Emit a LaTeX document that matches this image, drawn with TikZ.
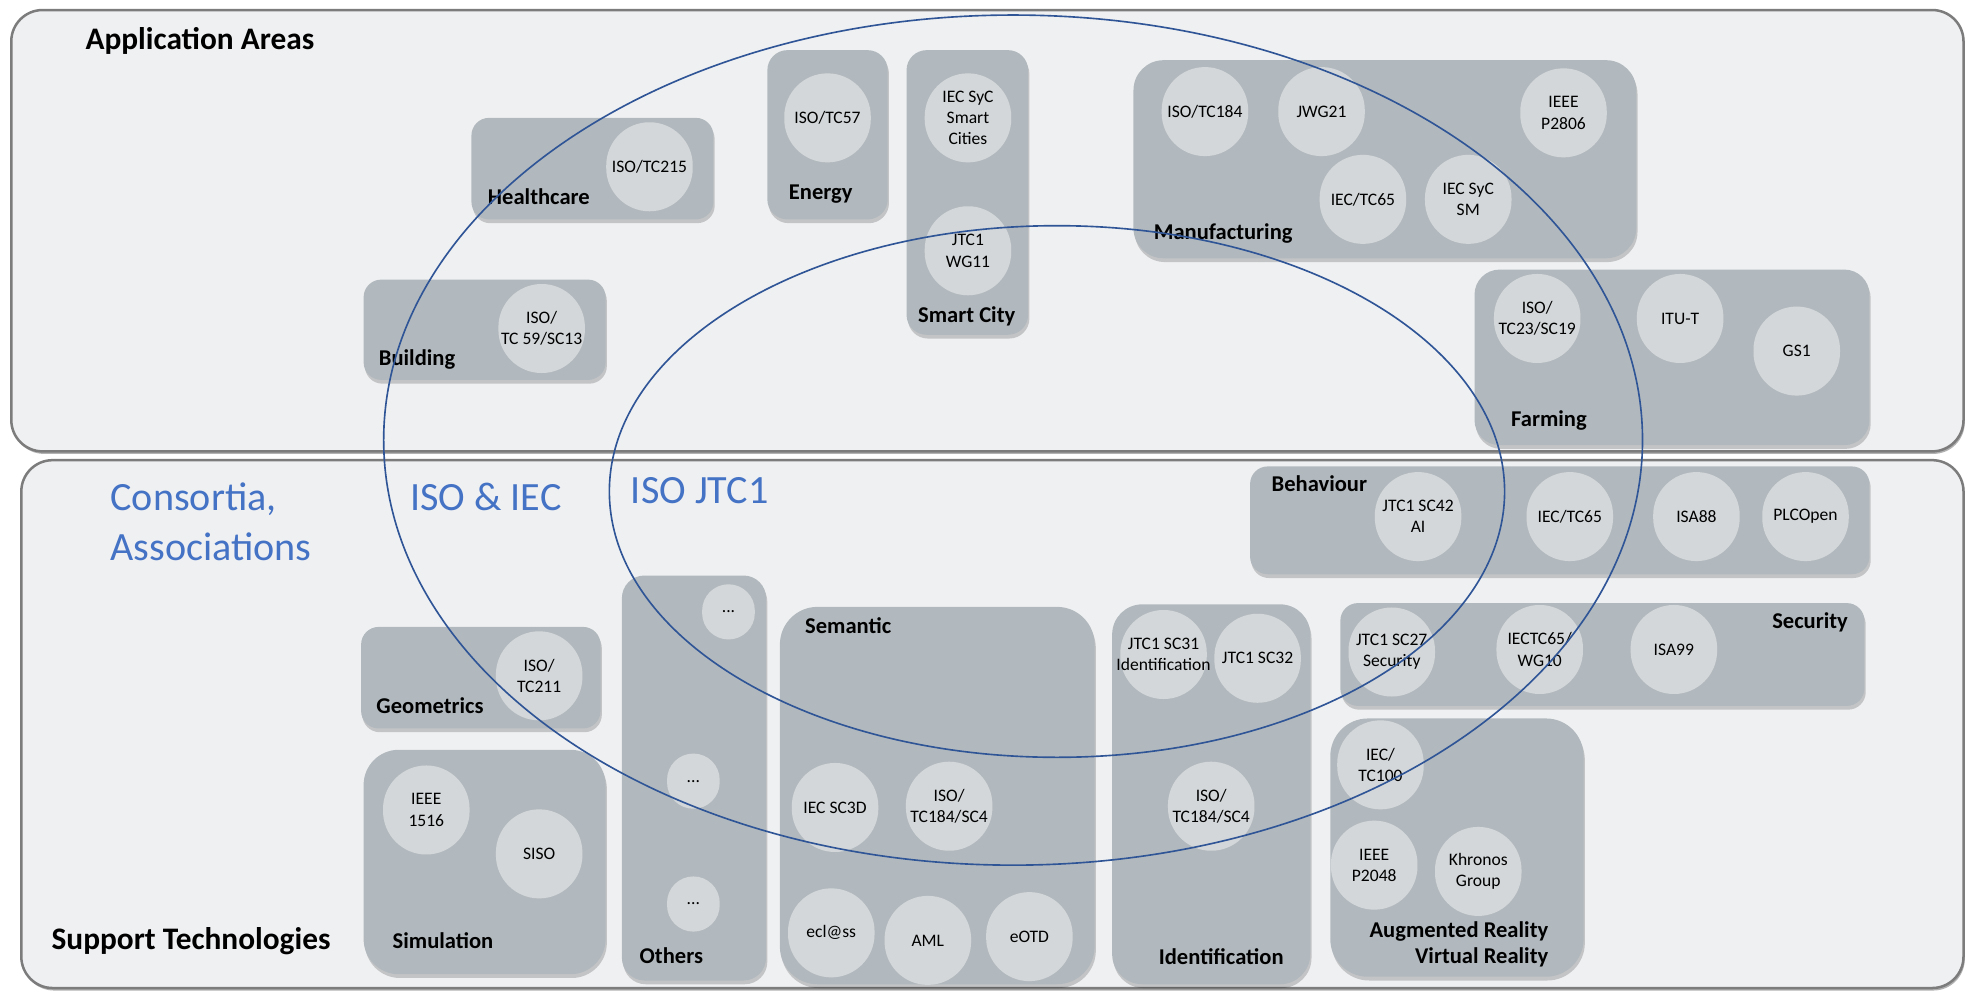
\documentclass[tikz,border=0pt]{standalone}
\usepackage{fontspec}
\setmainfont{Carlito}
\usetikzlibrary{shadows}

\definecolor{panelfill}{HTML}{EFF0F2}
\definecolor{panelline}{HTML}{7C7C7C}
\definecolor{boxfill}{HTML}{B2B9BE}
\definecolor{orgfill}{HTML}{D3D7D9}
\definecolor{ringblue}{HTML}{2F5597}
\definecolor{titleblue}{HTML}{4472C4}

\begin{document}
\begin{tikzpicture}[x=1pt, y=-1pt,
        panel/.style={fill=panelfill, draw=panelline, line width=2pt, rounded corners=25pt,
            drop shadow={shadow xshift=1pt, shadow yshift=-2pt, fill=black, opacity=0.3}},
        box/.style={fill=boxfill, rounded corners=14pt,
            drop shadow={shadow xshift=1pt, shadow yshift=-3pt, fill=black, opacity=0.18}},
        org/.style={rectangle, rounded corners=34.5pt, fill=orgfill, minimum width=69pt,
            minimum height=71pt, inner sep=0pt, align=center, font=\fontsize{14}{17}\selectfont},
        dots/.style={org, rounded corners=21pt, minimum width=42pt, minimum height=44pt},
        area/.style={inner sep=0pt, font=\bfseries\fontsize{18}{21}\selectfont},
        head/.style={inner sep=0pt, anchor=west, font=\bfseries\fontsize{25}{30}\selectfont},
        group/.style={inner sep=0pt, anchor=west, align=left, text=titleblue,
            font=\fontsize{32}{40}\selectfont},
        ring/.style={draw=ringblue, line width=1.3pt}]

    \useasboundingbox ( 0, 0 ) rectangle ( 1568, 790 );
    \fill [white] ( 0, 0 ) rectangle ( 1568, 790 );

    % панели
    \path [panel] ( 9, 8 ) rectangle ( 1566, 360 );
    \path [panel] ( 17, 367 ) rectangle ( 1566, 788 );

    \node [head] (apptitle) at ( 68, 33 ) {Application Areas};
    \node [head] (suptitle) at ( 41, 751 ) {Support Technologies};

    % области применения
    \path [box] ( 376, 94 ) rectangle ( 569, 175 );
    \node [org] (hc1) at ( 518, 133 ) {ISO/TC215};
    \node [area, anchor=west] (hclabel) at ( 389, 157 ) {Healthcare};

    \path [box] ( 290, 223 ) rectangle ( 483, 303 );
    \node [org] (bd1) at ( 432, 262 ) {ISO/\\TC 59/SC13};
    \node [area, anchor=west] (bdlabel) at ( 302, 287 ) {Building};

    \path [box, rounded corners=16pt] ( 612, 40 ) rectangle ( 708, 175 );
    \node [org] (en1) at ( 660, 94 ) {ISO/TC57};
    \node [area, anchor=west] (enlabel) at ( 629, 155 ) {Energy};

    \path [box, rounded corners=16pt] ( 723, 40 ) rectangle ( 820, 267 );
    \node [org] (sc1) at ( 772, 94 ) {IEC SyC\\Smart\\Cities};
    \node [org] (sc2) at ( 772, 200 ) {JTC1\\WG11};
    \node [area] (sclabel) at ( 771, 252 ) {Smart City};

    \path [box, rounded corners=24pt] ( 904, 48 ) rectangle ( 1305, 206 );
    \node [org] (mf1) at ( 961, 89 ) {ISO/TC184};
    \node [org] (mf2) at ( 1054, 89 ) {JWG21};
    \node [org] (mf3) at ( 1087, 159 ) {IEC/TC65};
    \node [org] (mf4) at ( 1171, 159 ) {IEC SyC\\SM};
    \node [org] (mf5) at ( 1247, 90 ) {IEEE\\P2806};
    \node [area, anchor=west] (mflabel) at ( 920, 186 ) {Manufacturing};

    \path [box, rounded corners=20pt] ( 1176, 215 ) rectangle ( 1491, 355 );
    \node [org] (fa1) at ( 1226, 254 ) {ISO/\\TC23/SC19};
    \node [org] (fa2) at ( 1340, 254 ) {ITU-T};
    \node [org] (fa3) at ( 1433, 280 ) {GS1};
    \node [area, anchor=west] (falabel) at ( 1205, 335 ) {Farming};

    % технологии поддержки
    \node [group] (consortia) at ( 88, 416 ) {Consortia,\\Associations};
    \node [group] (isoiec) at ( 327, 396 ) {ISO \& IEC};
    \node [group] (isojtc) at ( 503, 391 ) {ISO JTC1};

    \path [box] ( 997, 372 ) rectangle ( 1491, 458 );
    \node [org] (bh1) at ( 1131, 412 ) {JTC1 SC42\\AI};
    \node [org] (bh2) at ( 1252, 412 ) {IEC/TC65};
    \node [org] (bh3) at ( 1353, 412 ) {ISA88};
    \node [org] (bh4) at ( 1440, 412 ) {PLCOpen};
    \node [area, anchor=west] (bhlabel) at ( 1014, 386 ) {Behaviour};

    \path [box] ( 1069, 481 ) rectangle ( 1487, 563 );
    \node [org] (se1) at ( 1110, 520 ) {JTC1 SC27\\Security};
    \node [org] (se2) at ( 1228, 518 ) {IECTC65/\\WG10};
    \node [org] (se3) at ( 1335, 518 ) {ISA99};
    \node [area, anchor=east] (selabel) at ( 1474, 496 ) {Security};

    \path [box, rounded corners=30pt] ( 1061, 573 ) rectangle ( 1263, 779 );
    \node [org] (ar1) at ( 1101, 610 ) {IEC/\\TC100};
    \node [org] (ar2) at ( 1096, 690 ) {IEEE\\P2048};
    \node [org] (ar3) at ( 1179, 695 ) {Khronos\\Group};
    \node [area, anchor=east, align=right] (arlabel) at ( 1235, 753 ) {Augmented Reality\\Virtual Reality};

    \path [box] ( 288, 500 ) rectangle ( 479, 581 );
    \node [org] (ge1) at ( 430, 539 ) {ISO/\\TC211};
    \node [area, anchor=west] (gelabel) at ( 300, 563 ) {Geometrics};

    \path [box, rounded corners=28pt] ( 290, 598 ) rectangle ( 483, 777 );
    \node [org] (si1) at ( 340, 646 ) {IEEE\\1516};
    \node [org] (si2) at ( 430, 681 ) {SISO};
    \node [area, anchor=west] (silabel) at ( 313, 750 ) {Simulation};

    \path [box, rounded corners=18pt] ( 496, 459 ) rectangle ( 611, 782 );
    \node [dots] (ot1) at ( 581, 488 ) {...};
    \node [dots] (ot2) at ( 553, 623 ) {...};
    \node [dots] (ot3) at ( 553, 721 ) {...};
    \node [area, anchor=west] (otlabel) at ( 510, 762 ) {Others};

    \path [box, rounded corners=30pt] ( 622, 484 ) rectangle ( 873, 785 );
    \node [org] (sm1) at ( 666, 644 ) {IEC SC3D};
    \node [org] (sm2) at ( 757, 643 ) {ISO/\\TC184/SC4};
    \node [org] (sm3) at ( 663, 744 ) {ecl@ss};
    \node [org] (sm4) at ( 740, 750 ) {AML};
    \node [org] (sm5) at ( 821, 747 ) {eOTD};
    \node [area, anchor=west] (smlabel) at ( 642, 499 ) {Semantic};

    \path [box, rounded corners=24pt] ( 887, 482 ) rectangle ( 1045, 785 );
    \node [org] (id1) at ( 928, 522 ) {JTC1 SC31\\\makebox[60pt]{Identification}};
    \node [org] (id2) at ( 1003, 525 ) {JTC1 SC32};
    \node [org] (id3) at ( 966, 643 ) {ISO/\\TC184/SC4};
    \node [area] (idlabel) at ( 974, 763 ) {Identification};

    % эллипсы
    \draw [ring] ( 808, 351 ) ellipse [x radius=502, y radius=339];
    \draw [ring] ( 843, 392 ) ellipse [x radius=357, y radius=212];
\end{tikzpicture}
\end{document}
